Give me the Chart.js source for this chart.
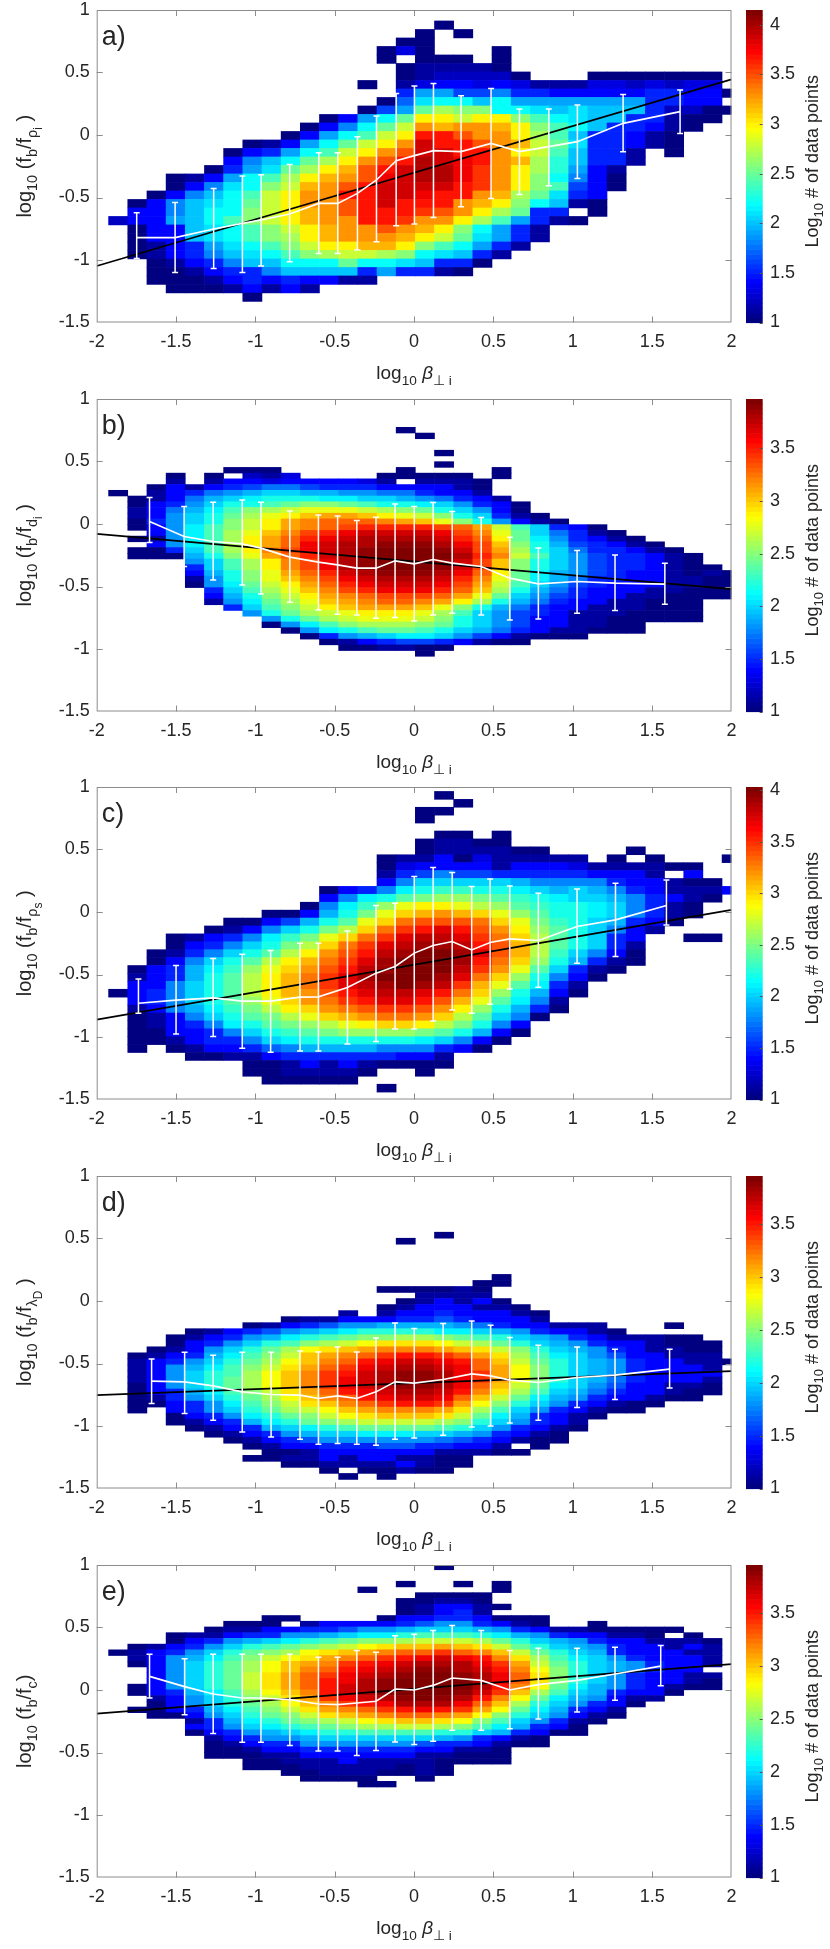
<!DOCTYPE html>
<html><head><meta charset="utf-8">
<script src="https://cdn.jsdelivr.net/npm/chart.js@4.4.0/dist/chart.umd.min.js"></script>
<style>
html,body{margin:0;padding:0;background:#fff;}
#wrap{position:relative;width:830px;height:1949px;background:#fff;}
</style></head><body><div id="wrap"></div>
<script>
// ---------------- DATA ----------------
// log10(count) level codes: '0'=1.0, '1'=1.1 ... 'A'=2.0 ... 'K'=3.0 ... 'U'=4.0, 'V'=4.1 ; '.' = empty bin
const LEVELS = "0123456789ABCDEFGHIJKLMNOPQRSTUV";
// x bins (log10 beta_perp_i), shared by all panels
const binX0 = -1.927, binW = 0.1208;
// y bins per panel: top edge, height
const binYTop = [0.915, 0.776, 0.967, 0.553, 1.01];
const binYH   = [0.068, 0.0458, 0.0633, 0.04825, 0.04574];
const cbarMax = [4.15, 3.97, 4.03, 3.95, 3.95];

// rows listed top -> bottom, "startColumn:codes"
const heatA = ["17:0","16:0.0","15:00","14:030...0","14:0.000.0","15:011110","15:0122220...0000000","13:0.13443431113323233","15:599668554444455440","14:07BCCAC99999995544","13:069FHGGCCBABAAA52200","11:049CFKKIKKGECBAA55100","10:048CFINMNNMKGECA55410","9:049CEIKRRPNNKHEA55410","7:0149CFIKNTRRPNMIFB55410","6:0459CEIKNPTTRRNKIEA551.0","6:48ACFHKNPRUTSRNMHDA551","5:059BFHKMPRTUUSQNKHD941","3:0149CEHKMNPSTUUSQNKGC840","3:048BCGIMNPRTTTTRQNKGE640","2:048ACEIKNNRRTTSRRNMHFB54","1:048ABCFIKNNPRTRRRNMKGCA10","1:448ACCGIKMNPRRRQPNKHF55.0","0:2449ACEGIKMNNRRQNNKHE9510","1:044ABCEGIKMNNPNMKGC951","1:044ABCEGHKMNNNMKIFB951","1:01459BCEGIKKMMKGEC951","1:01458ABCEGHIIHGCBA51","2:01458AACCCFCCBA550","2:0014558AAAA595510","2:000145454411","3:00014141","7:0"];
const heatB = ["15:0","16:0","","","17:0","","17:0","6:000......0....0","3:0.0.213....00000.0","3:1.1443444431.1110","2:041456776555444410","0:0.145789AA9988775441","1:01479ABCCCBBAA987541","1:0458ACCDEFFEDCCBA8540","1:1479BDFGHIIIHGFECA840","1:148ACEGIJKLLKJIHFCA510","1:058ACFHJLMNNNMLKIFC8410","1:048BDFHJLMNOPPPPONLHDA540","2:48BDGIKMOPQRRRRQOMIEA7510","1:018BDGJLNPQRSSSSRPNJEB85410","2:48BDGJLNQRSSTTTSQOKFC965410","1:005ADGJMOQRSTUUUTROLGCA755410","1:0009CFILNPRSTUUUUSPMHDA8655410","4:8ADGJMOQSTUUUTROKFCA8655410","4:5ADGJMOQSTUUUTROKFCA86554100","4:49CFILNPRSTTTSQNJEB9865441010","4:18CFIKMOQRSSSRPMIEB9755441100","4:08BEHJLNPQRRRQOLHDA8654441100","5:5ADGIKMOPQQQPNKGC97544411000","5:49CFHJLMNOOONLIEA86544110000","5:18BEGIKLMNNMLJGC9754411000","6:5ADFHJKLLLKIFC97544111000","7:8CEGHIJJJIGDA86541110000","8:8CEGHIIIHFCA86441100000","8:08BDFGGGFECA86441100","9:08BCDEEDCA975411000","10:0589ABBA8641000","11:01456654100","12:001100","16:0"];
const heatC = ["17:0","18:0","16:00","16:0","","17:00.0","16:01100","16:0111100....0","14:01140311111.0.0...0","14:03444414443111100","14:156866555554441.4","14:48AAAAA98888544100","11:0458BCDDCCBA9A98541114","11:48BCEFGGFEDCBAA985410","10:08BDGIJJIHGEDCCBA8510","8:0049CFIKLMLKIGECCBA8510","6:00469CEIKNOOONKIFDCA9540","5:0148ACFHKNPQRQOMJGECA841","3:01458BDFIKNPRSSRPNKHECA54..00","3:0458ACFHKNPRSTTSQOLHECA51","2:0158ACEHJMOQSTUUTROLHDA840","2:048ACEHJLNPRTUVUTQNKGC9510","1:0459BDGIKMOQSTVVUSPMIEA510","1:1459CEHJLNPRTUVUTRNKGC840","1:448ACEHJLNPRSTUTSPLIEB51","0:0458ACEHJLMOQRSSRQNKGC940","1:458ACEGIKMNPQRRQOLIEB81","1:1489BDFHJKMNOPPOMJGC950","1:0148ACEFHIKLMNNMKHEA80","1:01458BCEFGHIJKKJHFC84","1:004458ACDEFGGGGFEC940","1:0014558ABCCCCCCBA840","1:0.01445789999888540","4:00114555555441","7:00141410000","7:0011110..0","8:00000","14:0"];
const heatD = ["17:0","15:0","","","","","","20:0","19:00","14:000010","16:1111","15:014140","14:01444110","12:1.144544410","9:01144455654441","7:0145688999987544111...0","4:0145689ABCCCCBBA9854410","3:014589BCDEFFGGFEDCA985411100","3:0458ACDFGHIJJJIHGECA985441000","2:0148ACEGIJKLMMMLKJHFCA98541100","1:01459BDFHKLMNOPPONLJGDBA8644111","1:1458ACEGIKMNPQRRQPNKHECA98544110","1:1489BDFHJLNOQRSSRQNLIFCA9854441","1:148ACDGIKMOPRSTTSQOLIFCA9854444","1:148ACEGIKMOQRSTTSQOLIFCA9754441","1:048ACEGIKMOQRSTTSQNKHEBA8644110","1:0459BDFHJLNPQRSSRPMJGDA97544100","1:0158ACEGIKMNPQRRQNKHEB98544100","1:00458BDFHJKMNOPPOLIFCA854100","1:0.458ACEGHIKLMMMLJGDA854100","3:0458BCEFHIJKKKJHEB95410","3:01459BCEFGHHHHGFCA8541","4:01459ABCDEEEEDCA85410","5:014589AABBBAA985410","6:014568888887654100","7:01445556655441.0","8:00144444411100","7:001141441100","9:0011114100","11:0.00100","12:0.0"];
const heatE = ["17:0","","","15:0..0.0","13:0......0","16:0000","15:00110","15:014410","15:01451","8:00....044554000","6:000.1444456885410..0","5:01144556889AAA98541100000","3:011455889ABBCDDDCB98544110.0","3:04589ABCDEFFGHHHGECA985441110","1:01458ACDEFGHIJKKLKJHECA98544141","0:01458ACEFGIJKLMNNONMKHECA9544411","1:1489BDFHIJLMNOPQRQPMJGDBA854441","1:048ACEGIKLMOPQRSSSQOLHECA985441","2:48ACEGIKMNPQRSTTSRPMIFCA98544","2:48ACEHJLNOQRSTUUTSQNJFCA854411","2:48ACEHJLNPQSTUUVUSQNJFCA854410","1:048ACEHJLNPRSTUVVUSPMIEB9854100","1:0459BDGIKMPRSTUVUTROKGDA95440","2:148ACFHJLOQRSTUTSPMIEB98411","2:048ACEGIKMOPQSSSQNKGCA8540","1:00459BDFHJLMNOPQPOLIEB9541","2:0048ACEFHJKLMNNMLIFCA8410","4:159BCEFGHIJKKJIFDA8510","4:458ABCDEFGGHHGFDB9540","4:04589ABCCDDDDCCA95400","5:145889AAAAAA985410","5:014558888886554100","5:0014455555544110","5:0001144444411000","7:00111411110000","7:00011111010","9:001110010","10:0000..0","13:00"];

// binned means with error bars (x = log10 beta, mean, lower, upper)
const errXA = [-1.748,-1.506,-1.263,-1.082,-0.964,-0.784,-0.601,-0.481,-0.357,-0.237,-0.113,0.002,0.122,0.296,0.485,0.664,0.849,1.029,1.317,1.676];
const errMA = [-0.821,-0.821,-0.752,-0.707,-0.68,-0.632,-0.547,-0.547,-0.467,-0.36,-0.205,-0.165,-0.125,-0.133,-0.067,-0.133,-0.093,-0.053,0.093,0.187];
const errLA = [-0.987,-1.099,-1.067,-1.099,-1.048,-1.013,-0.947,-0.947,-0.92,-0.853,-0.725,-0.712,-0.659,-0.573,-0.507,-0.475,-0.405,-0.347,-0.133,0.013];
const errHA = [-0.621,-0.539,-0.427,-0.328,-0.317,-0.235,-0.141,-0.141,-0.013,0.152,0.333,0.392,0.413,0.315,0.373,0.208,0.208,0.24,0.325,0.36];

const errXB = [-1.667,-1.449,-1.266,-1.083,-0.965,-0.783,-0.603,-0.482,-0.361,-0.240,-0.120,0.001,0.120,0.240,0.423,0.603,0.783,1.027,1.266,1.580];
const errMB = [0.02,-0.1,-0.14,-0.159,-0.193,-0.265,-0.305,-0.327,-0.353,-0.353,-0.295,-0.319,-0.284,-0.313,-0.34,-0.433,-0.479,-0.46,-0.473,-0.481];
const errLB = [-0.148,-0.34,-0.447,-0.487,-0.559,-0.625,-0.687,-0.721,-0.727,-0.753,-0.748,-0.775,-0.727,-0.713,-0.727,-0.767,-0.759,-0.713,-0.692,-0.641];
const errHB = [0.212,0.14,0.175,0.193,0.175,0.105,0.073,0.065,0.028,0.055,0.161,0.14,0.172,0.1,0.052,-0.105,-0.191,-0.212,-0.247,-0.313];

const errXC = [-1.737,-1.500,-1.266,-1.083,-0.904,-0.719,-0.603,-0.420,-0.240,-0.120,0.001,0.120,0.240,0.363,0.479,0.603,0.783,1.027,1.269,1.590];
const errMC = [-0.73,-0.705,-0.687,-0.713,-0.713,-0.681,-0.679,-0.604,-0.489,-0.436,-0.329,-0.268,-0.236,-0.303,-0.244,-0.215,-0.228,-0.116,-0.063,0.052];
const errLC = [-0.81,-0.975,-0.996,-1.089,-1.121,-1.111,-1.111,-1.055,-1.036,-0.935,-0.935,-0.871,-0.783,-0.809,-0.737,-0.615,-0.601,-0.409,-0.356,-0.103];
const errHC = [-0.535,-0.428,-0.372,-0.337,-0.308,-0.249,-0.249,-0.151,0.052,0.071,0.284,0.356,0.316,0.204,0.265,0.209,0.151,0.185,0.231,0.257];

const errXD = [-1.654,-1.446,-1.266,-1.083,-0.901,-0.719,-0.603,-0.482,-0.361,-0.240,-0.120,0.001,0.183,0.363,0.482,0.603,0.783,1.027,1.266,1.610];
const errMD = [-0.641,-0.647,-0.679,-0.727,-0.748,-0.753,-0.78,-0.759,-0.78,-0.727,-0.647,-0.657,-0.628,-0.583,-0.599,-0.633,-0.652,-0.612,-0.593,-0.545];
const errLD = [-0.82,-0.9,-0.953,-1.047,-1.087,-1.105,-1.145,-1.14,-1.145,-1.153,-1.105,-1.095,-1.073,-1.007,-0.999,-0.975,-0.953,-0.852,-0.788,-0.695];
const errHD = [-0.463,-0.409,-0.433,-0.409,-0.409,-0.399,-0.407,-0.367,-0.407,-0.295,-0.175,-0.22,-0.18,-0.159,-0.193,-0.292,-0.353,-0.367,-0.385,-0.385];

const errXE = [-1.667,-1.446,-1.266,-1.083,-0.965,-0.783,-0.603,-0.482,-0.361,-0.240,-0.120,0.001,0.120,0.240,0.423,0.603,0.783,1.027,1.266,1.554];
const errME = [0.109,0.027,-0.032,-0.064,-0.064,-0.077,-0.112,-0.117,-0.104,-0.09,0.008,0.0,0.037,0.096,0.077,0.0,0.043,0.077,0.128,0.191];
const errLE = [-0.064,-0.197,-0.348,-0.418,-0.418,-0.444,-0.487,-0.487,-0.524,-0.484,-0.415,-0.436,-0.41,-0.322,-0.322,-0.309,-0.231,-0.176,-0.082,0.035];
const errHE = [0.287,0.25,0.287,0.287,0.287,0.287,0.263,0.263,0.316,0.303,0.434,0.447,0.476,0.516,0.476,0.316,0.335,0.335,0.343,0.356];

// linear fits: value at x=-2 and x=2
const fitX = [-2, 2];
const fitA = [-1.048, 0.445];
const fitB = [-0.079, -0.521];
const fitC = [-0.861, 0.017];
const fitD = [-0.753, -0.561];
const fitE = [-0.189, 0.207];

const xTicks = [-2,-1.5,-1,-0.5,0,0.5,1,1.5,2];
const yTicks = [-1.5,-1,-0.5,0,0.5,1];
const panelTags = ['a)','b)','c)','d)','e)'];
const ySubs = [['ρ','i'],['d','i'],['ρ','s'],['λ','D'],['c','']];

// ---------------- RENDER ----------------
const FONT = '"Liberation Sans", Arial, Helvetica, sans-serif';
const TXT = '#262626', AX = '#8c8c8c';
const heats = [heatA, heatB, heatC, heatD, heatE];
const errs = [[errXA,errMA,errLA,errHA],[errXB,errMB,errLB,errHB],[errXC,errMC,errLC,errHC],[errXD,errMD,errLD,errHD],[errXE,errME,errLE,errHE]];
const fits = [fitA, fitB, fitC, fitD, fitE];
const TOPS = [0, 389, 777, 1166, 1555];

function decode(rows){
  const out=[];
  rows.forEach((r,ri)=>{
    if(!r) return;
    const k=r.indexOf(':'); const c0=+r.slice(0,k); const s=r.slice(k+1);
    for(let j=0;j<s.length;j++){ const ch=s[j]; if(ch==='.') continue; out.push({c:c0+j, r:ri, v:1+LEVELS.indexOf(ch)*0.1}); }
  });
  return out;
}
function jet(t){
  t=Math.max(0,Math.min(1,t)); const i=Math.min(63,Math.floor(t*64)); const u=i/63;
  const f=v=>Math.round(255*Math.max(0,Math.min(1,v)));
  return 'rgb('+f(1.5-Math.abs(4*u-3))+','+f(1.5-Math.abs(4*u-2))+','+f(1.5-Math.abs(4*u-1))+')';
}
function drawRich(ctx, segs, x, y, size, rot){
  const lv=[{sc:1,dy:0},{sc:0.72,dy:0.30},{sc:0.6,dy:0.55}];
  ctx.save(); ctx.translate(x,y); if(rot) ctx.rotate(rot);
  ctx.fillStyle=TXT; ctx.textBaseline='alphabetic'; ctx.textAlign='left';
  let w=0;
  segs.forEach(s=>{ ctx.font=(s.it?'italic ':'')+(size*lv[s.l].sc)+'px '+FONT; s.w=ctx.measureText(s.t).width; w+=s.w; });
  let cx=-w/2;
  segs.forEach(s=>{ ctx.font=(s.it?'italic ':'')+(size*lv[s.l].sc)+'px '+FONT; ctx.fillText(s.t,cx,lv[s.l].dy*size); cx+=s.w; });
  ctx.restore();
}
const fmt = v => String(+v.toFixed(2));

const wrap=document.getElementById('wrap');
for(let i=0;i<5;i++){
  const cells=decode(heats[i]);
  const [ex,em,el,eh]=errs[i];
  const cmax=cbarMax[i], yTop=binYTop[i], yH=binYH[i];
  const cv=document.createElement('canvas');
  cv.width=830; cv.height=389;
  cv.style.cssText='position:absolute;left:0;top:'+TOPS[i]+'px;width:830px;height:389px;';
  wrap.appendChild(cv);

  const plug={
    id:'panel'+i,
    beforeDatasetsDraw(chart){
      const {ctx, chartArea:ca, scales:{x,y}}=chart;
      ctx.save(); ctx.beginPath(); ctx.rect(ca.left,ca.top,ca.right-ca.left,ca.bottom-ca.top); ctx.clip();
      cells.forEach(cl=>{
        const xl=binX0+cl.c*binW, xr=xl+binW, yt=yTop-cl.r*yH, yb=yt-yH;
        const px0=x.getPixelForValue(xl), px1=x.getPixelForValue(xr);
        const py0=y.getPixelForValue(yt), py1=y.getPixelForValue(yb);
        ctx.fillStyle=jet((cl.v-1)/(cmax-1));
        ctx.fillRect(px0,py0,px1-px0+0.6,py1-py0+0.6);
      });
      ctx.restore();
    },
    afterDatasetsDraw(chart){
      const {ctx, scales:{x,y}}=chart;
      ctx.save(); ctx.strokeStyle='#ffffff'; ctx.lineWidth=1.5;
      for(let k=0;k<ex.length;k++){
        const px=x.getPixelForValue(ex[k]), p0=y.getPixelForValue(el[k]), p1=y.getPixelForValue(eh[k]);
        ctx.beginPath(); ctx.moveTo(px,p0); ctx.lineTo(px,p1);
        ctx.moveTo(px-3,p0); ctx.lineTo(px+3,p0); ctx.moveTo(px-3,p1); ctx.lineTo(px+3,p1); ctx.stroke();
      }
      ctx.restore();
    },
    afterDraw(chart){
      const {ctx, chartArea:ca, scales:{x,y,cb}}=chart;
      ctx.save();
      ctx.strokeStyle=AX; ctx.lineWidth=1;
      ctx.strokeRect(ca.left+0.5,ca.top+0.5,ca.right-ca.left-1,ca.bottom-ca.top-1);
      ctx.beginPath();
      xTicks.forEach(v=>{ const px=Math.round(x.getPixelForValue(v))+0.5; if(v===-2||v===2) return;
        ctx.moveTo(px,ca.bottom); ctx.lineTo(px,ca.bottom-6); ctx.moveTo(px,ca.top); ctx.lineTo(px,ca.top+6); });
      yTicks.forEach(v=>{ const py=Math.round(y.getPixelForValue(v))+0.5; if(v===-1.5||v===1) return;
        ctx.moveTo(ca.left,py); ctx.lineTo(ca.left+6,py); ctx.moveTo(ca.right,py); ctx.lineTo(ca.right-6,py); });
      ctx.stroke();
      const cx0=746, cx1=762.7;
      for(let k=0;k<64;k++){
        const v0=1+(cmax-1)*k/64, v1=1+(cmax-1)*(k+1)/64;
        const p0=cb.getPixelForValue(v0), p1=cb.getPixelForValue(v1);
        ctx.fillStyle=jet((k+0.5)/64); ctx.fillRect(cx0,p1,cx1-cx0,p0-p1+0.6);
      }
      ctx.strokeStyle='#555'; ctx.beginPath();
      cb.ticks.forEach(t=>{ const py=Math.round(cb.getPixelForValue(t.value))+0.5; ctx.moveTo(cx1-3,py); ctx.lineTo(cx1,py); });
      ctx.stroke();
      ctx.fillStyle=TXT; ctx.font='27px '+FONT; ctx.textAlign='left'; ctx.textBaseline='alphabetic';
      ctx.fillText(panelTags[i], ca.left+5, ca.top+35);
      ctx.restore();
      const midY=(ca.top+ca.bottom)/2;
      const s=ySubs[i];
      const ys=[{t:'log',l:0},{t:'10',l:1},{t:' (f',l:0},{t:'b',l:1},{t:'/f',l:0},{t:s[0],l:1}];
      if(s[1]) { ys.push({t:s[1],l:2}); ys.push({t:' )',l:0}); } else ys.push({t:')',l:0});
      drawRich(ctx, ys, 31, midY, 20, -Math.PI/2);
      drawRich(ctx, [{t:'log',l:0},{t:'10',l:1},{t:' ',l:0},{t:'β',l:0,it:true},{t:'⊥ i',l:1}], (ca.left+ca.right)/2, 379, 19, 0);
      drawRich(ctx, [{t:'Log',l:0},{t:'10',l:1},{t:' # of data points',l:0}], 818, midY-5, 18, -Math.PI/2);
    }
  };

  const tickFont={family:FONT,size:18};
  new Chart(cv,{
    type:'scatter',
    data:{datasets:[
      {type:'line', data:ex.map((v,k)=>({x:v,y:em[k]})), borderColor:'#ffffff', borderWidth:1.6, pointRadius:0, tension:0, fill:false},
      {type:'line', data:fitX.map((v,k)=>({x:v,y:fits[i][k]})), borderColor:'#000000', borderWidth:1.6, pointRadius:0, tension:0, fill:false}
    ]},
    options:{
      responsive:false, animation:false, events:[],
      layout:{padding:{top:10,left:0,right:0,bottom:0}},
      plugins:{legend:{display:false}, tooltip:{enabled:false}},
      scales:{
        x:{type:'linear', position:'bottom', min:-2, max:2,
           ticks:{stepSize:0.5, color:TXT, font:tickFont, padding:9, maxRotation:0, autoSkip:false, callback:fmt},
           grid:{display:false, drawTicks:false}, border:{display:false},
           afterFit(sc){ sc.height=66.5; sc.paddingLeft=0; sc.paddingRight=0; sc.paddingTop=0; sc.paddingBottom=0; }},
        y:{type:'linear', position:'left', min:-1.5, max:1,
           ticks:{stepSize:0.5, color:TXT, font:tickFont, padding:7, callback:fmt},
           grid:{display:false, drawTicks:false}, border:{display:false},
           afterFit(sc){ sc.width=96.7; sc.paddingTop=0; sc.paddingBottom=0; sc.paddingLeft=0; sc.paddingRight=0; }},
        cb:{type:'linear', axis:'y', position:'right', min:1, max:cmax,
           ticks:{stepSize:0.5, color:TXT, font:tickFont, padding:38.5, includeBounds:false, callback:fmt},
           grid:{display:false, drawTicks:false}, border:{display:false},
           afterFit(sc){ sc.width=98.5; sc.paddingTop=0; sc.paddingBottom=0; sc.paddingLeft=0; sc.paddingRight=0; }}
      }
    },
    plugins:[plug]
  });
}
</script></body></html>
